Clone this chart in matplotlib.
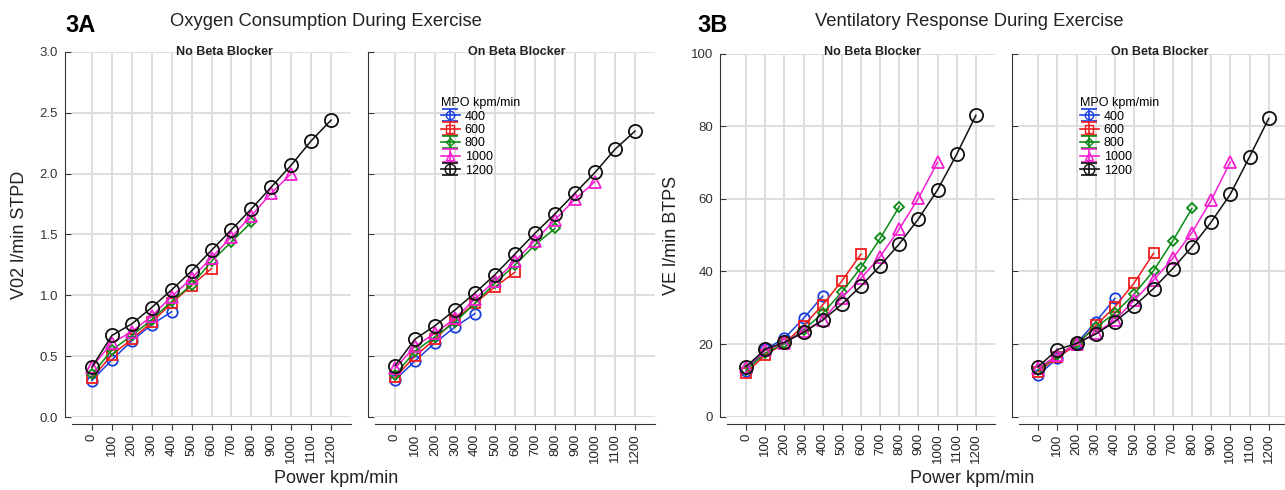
import numpy as np
import matplotlib
matplotlib.use("Agg")
from matplotlib import pyplot as plt

plt.rcParams['font.family'] = ['Liberation Sans', 'DejaVu Sans']

# power levels (kpm/min) on the x axis
power = [0, 100, 200, 300, 400, 500, 600, 700, 800, 900, 1000, 1100, 1200]
mpo_groups = [400, 600, 800, 1000, 1200]

# oxygen consumption, l/min STPD
vo2_no_bb = {
    400: [0.30, 0.47, 0.625, 0.76, 0.865],
    600: [0.32, 0.51, 0.64, 0.78, 0.935, 1.08, 1.22],
    800: [0.35, 0.55, 0.67, 0.80, 0.95, 1.085, 1.28, 1.44, 1.60],
    1000: [0.41, 0.61, 0.70, 0.83, 0.99, 1.14, 1.31, 1.48, 1.655, 1.84, 2.00],
    1200: [0.41, 0.67, 0.765, 0.90, 1.045, 1.20, 1.37, 1.54, 1.71, 1.89, 2.07, 2.27, 2.44],
}
vo2_on_bb = {
    400: [0.305, 0.46, 0.61, 0.74, 0.85],
    600: [0.325, 0.50, 0.64, 0.80, 0.935, 1.07, 1.19],
    800: [0.345, 0.54, 0.66, 0.78, 0.935, 1.10, 1.25, 1.415, 1.55],
    1000: [0.40, 0.58, 0.69, 0.81, 0.97, 1.12, 1.28, 1.45, 1.62, 1.79, 1.935],
    1200: [0.42, 0.64, 0.75, 0.88, 1.02, 1.17, 1.34, 1.51, 1.67, 1.84, 2.01, 2.20, 2.35],
}

# ventilation, l/min BTPS
ve_no_bb = {
    400: [12.6, 18.6, 21.6, 27.1, 33.2],
    600: [12.1, 17.0, 20.2, 25.1, 30.8, 37.4, 44.8],
    800: [12.9, 17.5, 20.2, 23.9, 28.5, 34.3, 41.1, 49.1, 57.9],
    1000: [13.6, 18.3, 20.4, 23.5, 26.6, 32.8, 38.1, 44.1, 51.7, 60.2, 70.1],
    1200: [13.8, 18.6, 20.5, 23.2, 26.6, 31.0, 36.0, 41.6, 47.6, 54.5, 62.5, 72.3, 83.0],
}
ve_on_bb = {
    400: [11.5, 16.1, 20.2, 26.2, 32.6],
    600: [12.4, 16.5, 19.7, 25.2, 30.3, 36.9, 45.0],
    800: [12.9, 17.0, 20.2, 24.6, 28.6, 33.8, 40.2, 48.4, 57.4],
    1000: [13.4, 17.0, 20.0, 23.1, 26.6, 32.1, 37.6, 43.6, 50.7, 59.6, 70.2],
    1200: [13.8, 18.5, 20.2, 22.8, 26.2, 30.5, 35.3, 40.8, 46.8, 53.6, 61.3, 71.6, 82.2],
}

styles = {
    400: dict(color='#1a3fe0', marker='o', ms=7.5),
    600: dict(color='#f01c1c', marker='s', ms=7.5),
    800: dict(color='#0a8a14', marker='D', ms=5.5),
    1000: dict(color='#f51fd2', marker='^', ms=8),
    1200: dict(color='#111111', marker='o', ms=9.5),
}

W, H = 1285, 490
fig = plt.figure(figsize=(W / 100, H / 100), dpi=100)


def px_axes(left, right, top, bottom):
    return fig.add_axes([left / W, 1 - bottom / H, (right - left) / W, (bottom - top) / H])


def style_panel(ax, ylim, yticks, ytick_fmt):
    ax.set_xlim(-100, 1300)
    ax.set_ylim(*ylim)
    ax.set_xticks(power)
    ax.set_xticklabels([str(p) for p in power])
    ax.set_yticks(yticks)
    ax.set_yticklabels([ytick_fmt(v) for v in yticks])
    for s in ['top', 'right']:
        ax.spines[s].set_visible(False)
    ax.spines['left'].set_position(('outward', 5))
    ax.spines['bottom'].set_position(('outward', 5))
    ax.spines['left'].set_color('#333333')
    ax.spines['bottom'].set_color('#333333')
    ax.tick_params(axis='y', direction='in', length=4, color='#333333', pad=5,
                   labelsize=9.5, labelcolor='#333333')
    ax.tick_params(axis='x', direction='out', length=4, color='#333333', pad=3,
                   labelsize=9.5, labelcolor='#222222', labelrotation=90)
    ax.grid(True, color='#dedede', linewidth=1.4)
    ax.set_axisbelow(True)


def draw_series(ax, data):
    for g in mpo_groups:
        st = styles[g]
        vals = data[g]
        ax.plot(power[:len(vals)], vals, color=st['color'], lw=1.1,
                marker=st['marker'], ms=st['ms'], mfc='none', mec=st['color'], mew=1.3)


def add_legend(ax, anchor):
    handles = []
    for g in mpo_groups:
        st = styles[g]
        h = ax.errorbar([np.nan], [np.nan], yerr=[np.nan], color=st['color'], lw=1.2,
                        marker=st['marker'], ms=st['ms'] * 0.8, mfc='none', mec=st['color'],
                        capsize=6, elinewidth=1.2, capthick=1.2, label=str(g))
        handles.append(h)
    leg = ax.legend(handles=handles, title='MPO kpm/min', loc='upper left',
                    bbox_to_anchor=(anchor[0] / W, 1 - anchor[1] / H),
                    bbox_transform=fig.transFigure, frameon=False, fontsize=9,
                    title_fontsize=9, handlelength=1.5, handletextpad=0.4,
                    labelspacing=0.12, borderpad=0, borderaxespad=0)
    leg._legend_box.align = 'left'


# 3A: oxygen consumption
vo2_ticks = [0.0, 0.5, 1.0, 1.5, 2.0, 2.5, 3.0]
ax1 = px_axes(72, 351, 52, 417)
ax2 = px_axes(375, 655, 52, 417)
for ax, data in [(ax1, vo2_no_bb), (ax2, vo2_on_bb)]:
    style_panel(ax, (0, 3.0), vo2_ticks, lambda v: f'{v:.1f}')
    draw_series(ax, data)
ax2.set_yticklabels([])
add_legend(ax2, (441, 97))

# 3B: ventilation
ve_ticks = [0, 20, 40, 60, 80, 100]
ax3 = px_axes(727, 995, 53.7, 416.7)
ax4 = px_axes(1019, 1288, 53.7, 416.7)
for ax, data in [(ax3, ve_no_bb), (ax4, ve_on_bb)]:
    style_panel(ax, (0, 100), ve_ticks, lambda v: f'{v:d}')
    draw_series(ax, data)
ax4.set_yticklabels([])
add_legend(ax4, (1080, 97))

# titles and labels
fig.text(65 / W, 1 - 25 / H, '3A', fontsize=17, fontweight='bold', va='center', ha='left')
fig.text(170 / W, 1 - 22 / H, 'Oxygen Consumption During Exercise', fontsize=13.2,
         va='center', ha='left', color='#222222')
fig.text(697 / W, 1 - 25 / H, '3B', fontsize=17, fontweight='bold', va='center', ha='left')
fig.text(815 / W, 1 - 22 / H, 'Ventilatory Response During Exercise', fontsize=13.2,
         va='center', ha='left', color='#222222')

for x, txt in [(224, 'No Beta Blocker'), (517, 'On Beta Blocker'),
               (872, 'No Beta Blocker'), (1160, 'On Beta Blocker')]:
    fig.text(x / W, 1 - 52 / H, txt, fontsize=9, fontweight='bold', ha='center', va='center',
             color='#222222')

fig.text(20 / W, 1 - 235 / H, 'V02 l/min STPD', fontsize=13, rotation=90, ha='center',
         va='center', color='#222222')
fig.text(672 / W, 1 - 235 / H, 'VE l/min BTPS', fontsize=13, rotation=90, ha='center',
         va='center', color='#222222')
fig.text(336 / W, 1 - 478 / H, 'Power kpm/min', fontsize=13, ha='center', va='center',
         color='#222222')
fig.text(972 / W, 1 - 478 / H, 'Power kpm/min', fontsize=13, ha='center', va='center',
         color='#222222')

fig.savefig('out.png', dpi=100)
